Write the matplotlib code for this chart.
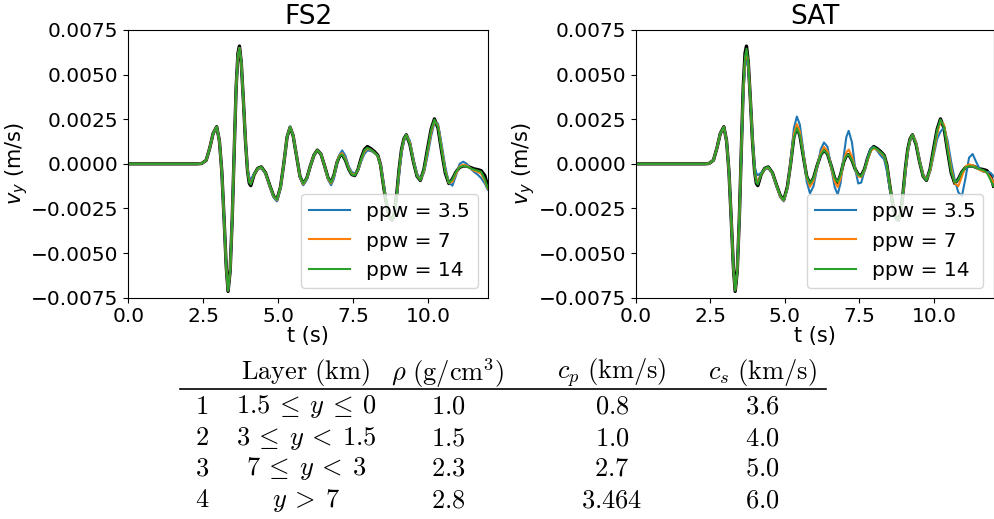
import matplotlib
matplotlib.use("Agg")
import matplotlib.pyplot as plt
import numpy as np

# time samples (s)
t = [0.0, 2.3, 2.45, 2.6, 2.72, 2.83, 2.95, 3.04, 3.12, 3.2,
     3.27, 3.33, 3.4, 3.47, 3.54, 3.6, 3.66, 3.71, 3.77, 3.84,
     3.91, 3.98, 4.04, 4.09, 4.2, 4.32, 4.44, 4.58, 4.72, 4.85,
     4.96, 5.08, 5.19, 5.3, 5.4, 5.5, 5.62, 5.73, 5.84, 5.96,
     6.08, 6.2, 6.31, 6.43, 6.55, 6.67, 6.77, 6.87, 6.97, 7.06,
     7.14, 7.25, 7.36, 7.46, 7.56, 7.67, 7.78, 7.88, 7.98, 8.1,
     8.22, 8.33, 8.42, 8.5, 8.58, 8.66, 8.74, 8.81, 8.88, 8.96,
     9.04, 9.12, 9.2, 9.28, 9.4, 9.52, 9.64, 9.75, 9.87, 9.99,
     10.11, 10.22, 10.34, 10.46, 10.58, 10.7, 10.82, 10.94, 11.06, 11.18,
     11.3, 11.42, 11.54, 11.66, 11.78, 11.9, 12.0]

# velocities in 1e-3 m/s
ref = [0, 0, 0.02, 0.2, 0.9, 1.7, 2.08, 1.3, -0.4, -3.2,
       -5.8, -7.15, -6.0, -3.0, 1.0, 4.3, 6.2, 6.6, 5.7, 3.6,
       1.3, -0.4, -1.1, -1.22, -0.6, -0.25, -0.17, -0.5, -1.2, -1.8,
       -2.02, -1.3, 0.0, 1.5, 2.05, 1.6, 0.4, -0.7, -1.12, -0.8,
       -0.1, 0.5, 0.77, 0.55, -0.1, -0.8, -1.05, -0.6, 0.1, 0.45,
       0.52, 0.2, -0.3, -0.6, -0.66, -0.3, 0.35, 0.8, 0.97, 0.85,
       0.68, 0.48, -0.05, -1.0, -1.9, -2.6, -3.05, -3.15, -2.8, -1.7,
       -0.3, 0.8, 1.4, 1.63, 1.1, 0.1, -0.7, -0.93, -0.3, 0.85,
       1.95, 2.52, 2.0, 0.7, -0.5, -1.1, -0.85, -0.45, -0.2, -0.12,
       -0.12, -0.2, -0.28, -0.32, -0.38, -0.65, -1.25]

fs2_14 = [0, 0, 0.02, 0.2, 0.9, 1.7, 2.07, 1.3, -0.4, -3.2,
          -5.8, -7.1, -6.0, -3.0, 1.0, 4.3, 6.1, 6.5, 5.7, 3.6,
          1.3, -0.4, -1.05, -1.15, -0.6, -0.25, -0.17, -0.5, -1.2, -1.8,
          -2.0, -1.3, 0.0, 1.5, 2.05, 1.6, 0.4, -0.7, -1.1, -0.8,
          -0.1, 0.5, 0.76, 0.55, -0.1, -0.8, -1.05, -0.6, 0.1, 0.45,
          0.53, 0.2, -0.3, -0.6, -0.65, -0.3, 0.3, 0.75, 0.9, 0.8,
          0.63, 0.45, -0.1, -1.0, -1.9, -2.6, -3.05, -3.15, -2.8, -1.7,
          -0.3, 0.8, 1.4, 1.62, 1.1, 0.1, -0.7, -0.92, -0.3, 0.8,
          1.9, 2.48, 2.05, 0.75, -0.45, -1.07, -0.88, -0.45, -0.2, -0.12,
          -0.15, -0.25, -0.32, -0.38, -0.45, -0.85, -1.35]

fs2_7 = [0, 0, 0.02, 0.2, 0.9, 1.7, 2.07, 1.3, -0.4, -3.2,
         -5.8, -7.1, -6.0, -3.0, 1.0, 4.3, 6.1, 6.5, 5.7, 3.6,
         1.35, -0.35, -0.98, -1.08, -0.6, -0.27, -0.19, -0.52, -1.22, -1.82,
         -2.03, -1.32, 0.0, 1.5, 2.06, 1.62, 0.42, -0.72, -1.14, -0.82,
         -0.1, 0.5, 0.76, 0.56, -0.1, -0.85, -1.1, -0.65, 0.12, 0.5,
         0.6, 0.28, -0.25, -0.55, -0.62, -0.32, 0.25, 0.68, 0.85, 0.78,
         0.62, 0.45, -0.05, -0.95, -1.85, -2.6, -3.05, -3.17, -2.85, -1.8,
         -0.4, 0.7, 1.35, 1.62, 1.2, 0.15, -0.65, -0.9, -0.4, 0.65,
         1.75, 2.42, 2.15, 0.9, -0.35, -1.08, -1.0, -0.55, -0.15, -0.05,
         -0.1, -0.25, -0.38, -0.45, -0.55, -0.95, -1.4]

fs2_35 = [0, 0, 0.02, 0.2, 0.9, 1.7, 2.06, 1.3, -0.4, -3.2,
          -5.8, -7.1, -6.0, -3.0, 1.0, 4.3, 6.1, 6.5, 5.7, 3.6,
          1.4, -0.25, -0.78, -0.85, -0.55, -0.3, -0.25, -0.55, -1.25, -1.88,
          -2.1, -1.4, -0.05, 1.5, 2.1, 1.65, 0.45, -0.75, -1.2, -0.88,
          -0.12, 0.5, 0.75, 0.58, -0.1, -0.9, -1.2, -0.8, 0.1, 0.55,
          0.75, 0.45, -0.15, -0.45, -0.55, -0.35, 0.15, 0.55, 0.75, 0.72,
          0.6, 0.45, 0.0, -0.8, -1.7, -2.5, -3.0, -3.2, -2.95, -2.0,
          -0.6, 0.55, 1.25, 1.6, 1.3, 0.25, -0.55, -0.85, -0.5, 0.45,
          1.55, 2.3, 2.25, 1.1, -0.15, -1.05, -1.22, -0.65, 0.0, 0.12,
          0.0, -0.25, -0.45, -0.6, -0.8, -1.1, -1.45]

sat_14 = [0, 0, 0.02, 0.2, 0.9, 1.7, 2.07, 1.3, -0.4, -3.2,
          -5.8, -7.1, -6.0, -3.0, 1.0, 4.2, 6.0, 6.45, 5.7, 3.6,
          1.3, -0.4, -1.05, -1.15, -0.6, -0.25, -0.17, -0.5, -1.2, -1.8,
          -2.02, -1.35, -0.05, 1.45, 2.0, 1.6, 0.4, -0.7, -1.1, -0.8,
          -0.1, 0.5, 0.77, 0.55, -0.1, -0.8, -1.02, -0.6, 0.1, 0.45,
          0.52, 0.2, -0.3, -0.62, -0.7, -0.3, 0.3, 0.78, 0.93, 0.82,
          0.65, 0.47, -0.08, -1.0, -1.9, -2.6, -3.05, -3.12, -2.8, -1.7,
          -0.3, 0.8, 1.4, 1.62, 1.1, 0.1, -0.7, -0.93, -0.3, 0.8,
          1.9, 2.48, 2.05, 0.75, -0.45, -1.05, -0.88, -0.45, -0.2, -0.13,
          -0.15, -0.22, -0.3, -0.35, -0.5, -0.9, -1.25]

sat_7 = [0, 0, 0.02, 0.2, 0.9, 1.7, 2.07, 1.3, -0.4, -3.2,
         -5.8, -7.08, -6.0, -3.0, 1.0, 4.0, 5.8, 6.2, 5.65, 3.6,
         1.35, -0.35, -0.95, -1.05, -0.6, -0.28, -0.2, -0.52, -1.22, -1.85,
         -2.05, -1.35, 0.0, 1.65, 2.23, 1.8, 0.5, -0.75, -1.28, -0.95,
         -0.15, 0.6, 0.95, 0.7, -0.15, -1.0, -1.3, -0.8, 0.15, 0.65,
         0.8, 0.4, -0.3, -0.7, -0.75, -0.35, 0.25, 0.72, 0.88, 0.78,
         0.6, 0.42, -0.1, -1.0, -1.9, -2.6, -3.05, -3.15, -2.85, -1.8,
         -0.4, 0.7, 1.35, 1.62, 1.2, 0.15, -0.65, -0.88, -0.4, 0.6,
         1.7, 2.4, 2.2, 1.0, -0.25, -1.1, -1.25, -0.7, -0.15, -0.03,
         -0.08, -0.2, -0.35, -0.42, -0.5, -0.75, -1.05]

sat_35 = [0, 0, 0.02, 0.2, 0.9, 1.7, 2.05, 1.3, -0.4, -3.2,
          -5.75, -7.0, -6.0, -3.1, 0.8, 3.8, 5.5, 5.75, 5.4, 3.6,
          1.5, -0.1, -0.52, -0.63, -0.5, -0.32, -0.25, -0.55, -1.25, -1.9,
          -2.1, -1.4, 0.1, 2.0, 2.65, 2.2, 0.7, -1.0, -1.65, -1.25,
          -0.25, 0.8, 1.2, 0.95, -0.2, -1.3, -1.72, -1.05, 0.4, 1.5,
          1.85, 1.2, -0.3, -1.1, -1.05, -0.4, 0.4, 0.85, 0.95, 0.72,
          0.45, 0.25, -0.4, -1.2, -2.0, -2.7, -3.1, -3.2, -2.9, -1.95,
          -0.55, 0.6, 1.3, 1.6, 1.25, 0.2, -0.6, -0.82, -0.45, 0.45,
          1.4, 1.8, 2.05, 1.3, 0.1, -0.9, -1.6, -1.8, -0.8, 0.35,
          0.55, 0.1, -0.3, -0.45, -0.45, -0.5, -0.7]

labels = ['ppw = 3.5', 'ppw = 7', 'ppw = 14']

# table
col_heads = [r'$\mathrm{Layer\ (km)}$', r'$\rho\ \mathrm{(g/cm^3)}$',
             r'$c_p\ \mathrm{(km/s)}$', r'$c_s\ \mathrm{(km/s)}$']
layer_no = ['1', '2', '3', '4']
layer_rng = [r'1.5\:\leq\:y\:\leq\:0', r'3\:\leq\:y\:<\:1.5',
             r'7\:\leq\:y\:<\:3', r'y\:>\:7']
rho = ['1.0', '1.5', '2.3', '2.8']
cp = ['0.8', '1.0', '2.7', '3.464']
cs = ['3.6', '4.0', '5.0', '6.0']

t = np.array(t)
scale = 1e-3

fig = plt.figure(figsize=(9.94, 5.19), dpi=100)
ax1 = fig.add_axes([0.1291, 0.4264, 0.3616, 0.5158])
ax2 = fig.add_axes([0.6398, 0.4264, 0.3597, 0.5158])

for ax, title, series in [(ax1, 'FS2', [fs2_35, fs2_7, fs2_14]),
                          (ax2, 'SAT', [sat_35, sat_7, sat_14])]:
    ax.plot(t, np.array(ref) * scale, color='k', lw=2.4)
    for s, lab in zip(series, labels):
        ax.plot(t, np.array(s) * scale, lw=1.5, label=lab)
    ax.set_xlim(0, 12)
    ax.set_ylim(-0.0075, 0.0075)
    ax.set_xticks([0, 2.5, 5, 7.5, 10])
    ax.set_yticks([-0.0075, -0.005, -0.0025, 0, 0.0025, 0.005, 0.0075])
    ax.set_title(title, fontsize=19, pad=4)
    ax.set_xlabel('t (s)', fontsize=15, labelpad=0)
    ax.set_ylabel(r'$v_y$ (m/s)', fontsize=15, labelpad=1)
    ax.tick_params(labelsize=14.5)
    ax.legend(loc='lower right', fontsize=14.5)

# layer table in computer modern
fs = 19
ys = [407, 438, 469, 500]
H = 519.0
xcol = [306, 448, 612, 762]
for x, txt in zip(xcol, col_heads):
    fig.text(x / 994, 1 - 373 / H, txt, ha='center', va='center',
             fontsize=fs, math_fontfamily='cm')
fig.add_artist(plt.Line2D([180 / 994, 826 / 994], [1 - 389 / H, 1 - 389 / H],
                          color='k', lw=1.2))
for i in range(4):
    y = 1 - ys[i] / H
    row = [(202, layer_no[i]), (306, layer_rng[i]), (448, rho[i]),
           (612, cp[i]), (762, cs[i])]
    for x, txt in row:
        fig.text(x / 994, y, '$' + txt + '$', ha='center', va='center',
                 fontsize=fs, math_fontfamily='cm')

fig.savefig('out.png', dpi=100)
